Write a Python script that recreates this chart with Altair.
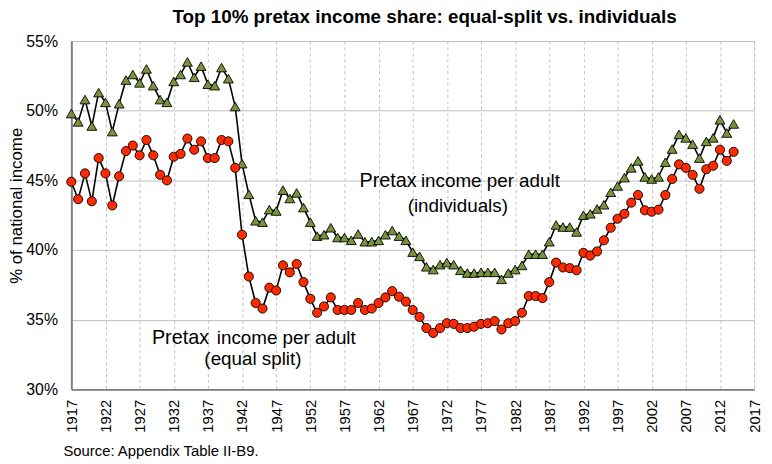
import altair as alt
import pandas as pd

# ---------------- data ----------------
years = list(range(1917, 2015))

equal_split = [
    44.9, 43.65, 45.5, 43.5, 46.6, 45.5, 43.2, 45.3, 47.1, 47.5,   # 1917-1926
    46.8, 47.9, 46.8, 45.4, 45.0, 46.7, 46.9, 48.0, 47.2, 47.8,    # 1927-1936
    46.6, 46.6, 47.9, 47.8, 45.9, 41.1, 38.1, 36.2, 35.8, 37.3,    # 1937-1946
    37.1, 38.9, 38.4, 39.0, 37.7, 36.5, 35.5, 35.95, 36.6, 35.7,   # 1947-1956
    35.7, 35.7, 36.2, 35.7, 35.8, 36.2, 36.6, 37.05, 36.65, 36.3,  # 1957-1966
    35.7, 35.2, 34.4, 34.05, 34.4, 34.75, 34.7, 34.4, 34.4, 34.5,  # 1967-1976
    34.7, 34.75, 34.9, 34.3, 34.75, 34.9, 35.5, 36.7, 36.7, 36.55, # 1977-1986
    37.7, 39.1, 38.75, 38.7, 38.55, 39.8, 39.6, 39.9, 40.7, 41.6,  # 1987-1996
    42.25, 42.6, 43.4, 43.95, 42.85, 42.75, 42.9, 43.95, 45.1, 46.15,  # 1997-2006
    45.9, 45.4, 44.4, 45.8, 46.05, 47.2, 46.4, 47.05,               # 2007-2014
]

individuals = [
    49.8, 49.2, 50.8, 48.9, 51.3, 50.6, 48.5, 50.5, 52.2, 52.6,    # 1917-1926
    52.0, 53.0, 51.8, 50.8, 50.6, 52.1, 52.6, 53.5, 52.4, 53.2,    # 1927-1936
    51.9, 51.8, 53.1, 52.3, 50.3, 46.2, 44.0, 42.1, 42.0, 42.9,    # 1937-1946
    42.8, 44.3, 43.7, 44.1, 43.05, 42.0, 41.0, 41.1, 41.6, 40.9,   # 1947-1956
    40.9, 40.7, 41.15, 40.6, 40.6, 40.7, 41.1, 41.4, 41.0, 40.7,   # 1957-1966
    39.85, 39.55, 38.8, 38.6, 38.95, 39.1, 38.95, 38.55, 38.35, 38.35,  # 1967-1976
    38.4, 38.4, 38.4, 37.9, 38.35, 38.6, 38.9, 39.7, 39.7, 39.7,   # 1977-1986
    40.6, 41.8, 41.65, 41.65, 41.3, 42.5, 42.6, 42.95, 43.25, 44.15,  # 1987-1996
    44.6, 45.2, 45.9, 46.4, 45.25, 45.1, 45.25, 46.3, 47.25, 48.3,  # 1997-2006
    48.05, 47.6, 46.6, 47.8, 48.05, 49.35, 48.4, 49.05,             # 2007-2014
]

x_ticks = list(range(1917, 2018, 5))
y_ticks = [30, 35, 40, 45, 50, 55]

title_text = "Top 10% pretax income share: equal-split vs. individuals"
y_title = "% of national income"
source_text = "Source: Appendix Table II-B9."

# annotation labels with their anchor (year, share)
ann_big = ["Pretax", "Pretax"]
ann_big_year = [1959.2, 1928.8]
ann_big_share = [44.5, 33.25]
ann_rest = ["income per adult", "income per adult"]
ann_rest_year = [1968.2, 1938.3]
ann_rest_share = [44.5, 33.25]
ann_sub = ["(individuals)", "(equal split)"]
ann_sub_year = [1973.6, 1943.6]
ann_sub_share = [42.75, 31.75]

FONT = "Liberation Sans"
RED = "#FF2A00"
GREEN = "#77933C"
GRID = "#BFBFBF"

df_eq = pd.DataFrame({"year": years, "share": equal_split})
df_ind = pd.DataFrame({"year": years, "share": individuals})

x_enc = alt.X(
    "year:Q",
    scale=alt.Scale(domain=[1917, 2017], nice=False, zero=False),
    axis=alt.Axis(
        values=x_ticks, format="d", labelAngle=-90, title=None,
        labelFont=FONT, labelFontSize=15, labelColor="#000000",
        labelPadding=10, ticks=False, labelOverlap=False, labelBound=False,
        labelFlush=False,
        grid=True, gridColor=GRID, gridDash=[3, 3], gridWidth=1,
        domainColor="#808080", domainWidth=2,
    ),
)
y_enc = alt.Y(
    "share:Q",
    scale=alt.Scale(domain=[30, 55], nice=False, zero=False),
    axis=alt.Axis(
        values=y_ticks, labelExpr="datum.value + '%'", title=y_title,
        labelFont=FONT, labelFontSize=16, labelColor="#000000",
        labelPadding=14, ticks=False, labelOverlap=False,
        titleFont=FONT, titleFontSize=17, titleFontWeight="normal", titleColor="#000000",
        titleAngle=270, titleBaseline="alphabetic", titleAlign="center",
        titleX=-50, titleY=166,
        grid=True, gridColor=GRID, gridWidth=1,
        domainColor="#808080", domainWidth=2,
    ),
)

line_ind = alt.Chart(df_ind).mark_line(color="#000000", strokeWidth=1.6).encode(x=x_enc, y=y_enc)
pts_ind = alt.Chart(df_ind).mark_point(
    shape="triangle-up", filled=True, fill=GREEN, stroke="#000000", strokeWidth=0.9,
    size=100, opacity=1,
).encode(x=x_enc, y=y_enc)

line_eq = alt.Chart(df_eq).mark_line(color="#000000", strokeWidth=1.6).encode(x=x_enc, y=y_enc)
pts_eq = alt.Chart(df_eq).mark_point(
    shape="circle", filled=True, fill=RED, stroke="#000000", strokeWidth=0.9,
    size=85, opacity=1,
).encode(x=x_enc, y=y_enc)

df_big = pd.DataFrame({"year": ann_big_year, "share": ann_big_share, "t": ann_big})
df_rest = pd.DataFrame({"year": ann_rest_year, "share": ann_rest_share, "t": ann_rest})
df_sub = pd.DataFrame({"year": ann_sub_year, "share": ann_sub_share, "t": ann_sub})

txt_big = alt.Chart(df_big).mark_text(
    align="left", baseline="alphabetic", font=FONT, fontSize=20, color="#000000"
).encode(x=x_enc, y=y_enc, text="t:N")
txt_rest = alt.Chart(df_rest).mark_text(
    align="left", baseline="alphabetic", font=FONT, fontSize=19, color="#000000"
).encode(x=x_enc, y=y_enc, text="t:N")
txt_sub = alt.Chart(df_sub).mark_text(
    align="center", baseline="alphabetic", font=FONT, fontSize=19, color="#000000"
).encode(x=x_enc, y=y_enc, text="t:N")

src = alt.Chart(pd.DataFrame({"t": [source_text]})).mark_text(
    align="left", baseline="alphabetic", font=FONT, fontSize=15, color="#000000"
).encode(text="t:N", x=alt.value(-8), y=alt.value(419))

chart = alt.layer(
    line_ind, line_eq, pts_ind, pts_eq, txt_big, txt_rest, txt_sub, src
).properties(
    width=690,
    height=352,
    padding={"left": 64, "top": 31, "right": 10, "bottom": 72},
    autosize=alt.AutoSizeParams(type="none"),
    title=alt.TitleParams(
        title_text, font=FONT, fontSize=19, fontWeight="bold", color="#000000",
        anchor="middle", dx=12, offset=6,
    ),
).configure_view(stroke=None).configure(background="#FFFFFF")

chart.save("out.html", embed_options={"renderer": "svg", "actions": False})
